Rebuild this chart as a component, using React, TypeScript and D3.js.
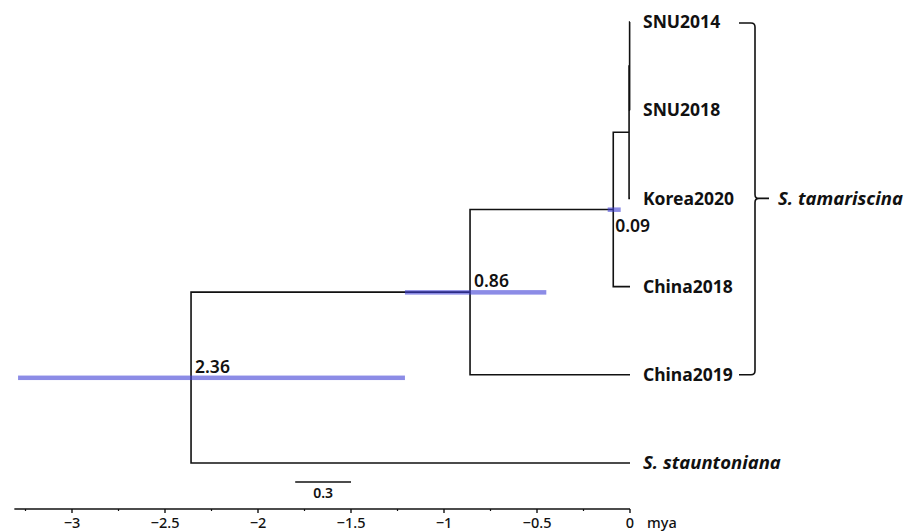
import * as d3 from "d3";
import { useEffect, useRef } from "react";

// tips from top to bottom
const tipNames = ["SNU2014", "SNU2018", "Korea2020", "China2018", "China2019", "S. stauntoniana"];
const italicTips = ["S. stauntoniana"];

// internal nodes: [child a, child b, age (mya)]
const nodeNames = ["n1", "n2", "n3", "n4", "root"];
const nodeChildren = [
  ["SNU2014", "SNU2018"],
  ["n1", "Korea2020"],
  ["n2", "China2018"],
  ["n3", "China2019"],
  ["n4", "S. stauntoniana"],
];
const nodeAges = [0.002, 0.005, 0.09, 0.86, 2.36];
const nodeLabels = ["", "", "0.09", "0.86", "2.36"];
// 95% HPD ranges
const hpdLow = [null, null, 0.12, 1.21, 3.29];
const hpdHigh = [null, null, 0.05, 0.45, 1.21];

const axisTicks = [-3, -2.5, -2, -1.5, -1, -0.5, 0];
const minorTicks = [-3.25, -2.75, -2.25, -1.75, -1.25, -0.75, -0.25];

const cladeName = "S. tamariscina";
const scaleBarLength = 0.3;

const W = 906;
const H = 531;
const font = "'Noto Sans', 'Open Sans', sans-serif";

const App = () => {
  const svgRef = useRef(null);

  useEffect(() => {
    const svg = d3.select(svgRef.current);
    svg.selectAll("*").remove();

    const x = d3.scaleLinear().domain([-3, 0]).range([72, 630]);
    const y = d3.scaleLinear().domain([0, tipNames.length - 1]).range([22, 463]);

    // compute positions
    const pos = {};
    tipNames.forEach((t, i) => {
      pos[t] = { x: x(0), y: y(i) };
    });
    nodeNames.forEach((n, i) => {
      const [a, b] = nodeChildren[i];
      pos[n] = { x: x(-nodeAges[i]), y: (pos[a].y + pos[b].y) / 2 };
    });

    const g = svg.append("g");

    // branches
    nodeNames.forEach((n, i) => {
      const p = pos[n];
      const [a, b] = nodeChildren[i];
      const pa = pos[a];
      const pb = pos[b];
      g.append("path")
        .attr("d", `M${pa.x},${pa.y}H${p.x}V${pb.y}H${pb.x}`)
        .attr("fill", "none")
        .attr("stroke", "#111")
        .attr("stroke-width", 1.6);
    });

    // HPD bars
    nodeNames.forEach((n, i) => {
      if (hpdLow[i] == null) return;
      const p = pos[n];
      const x0 = x(-hpdLow[i]);
      const x1 = x(-hpdHigh[i]);
      g.append("rect")
        .attr("x", x0)
        .attr("y", p.y - 2)
        .attr("width", x1 - x0)
        .attr("height", 4.5)
        .attr("fill", "rgb(63,63,213)")
        .attr("fill-opacity", 0.6);
    });

    // node labels
    nodeNames.forEach((n, i) => {
      if (!nodeLabels[i]) return;
      const p = pos[n];
      const below = n === "n3";
      g.append("text")
        .attr("x", p.x + (below ? 2 : 4))
        .attr("y", below ? p.y + 23 : p.y - 5)
        .attr("font-family", font)
        .attr("font-size", 17.5)
        .attr("font-weight", 600)
        .attr("fill", "#111")
        .text(nodeLabels[i]);
    });

    // tip labels
    tipNames.forEach((t) => {
      const p = pos[t];
      const it = italicTips.includes(t);
      g.append("text")
        .attr("x", p.x + 13)
        .attr("y", p.y)
        .attr("dy", "0.35em")
        .attr("font-family", font)
        .attr("font-size", it ? 18.5 : 17.5)
        .attr("font-weight", 700)
        .attr("font-style", it ? "italic" : "normal")
        .attr("fill", "#111")
        .text(t);
    });

    // clade bracket
    const top = pos[tipNames[0]].y + 1;
    const bot = pos["China2019"].y;
    const mid = pos["Korea2020"].y;
    const bx = 755;
    const r = 4;
    g.append("path")
      .attr(
        "d",
        `M${bx - 16},${top}H${bx - r}Q${bx},${top} ${bx},${top + r}` +
          `V${mid - r}Q${bx},${mid} ${bx + r},${mid}H${bx + 14}` +
          `M${bx + r},${mid}Q${bx},${mid} ${bx},${mid + r}` +
          `V${bot - r}Q${bx},${bot} ${bx - r},${bot}H${bx - 16}`
      )
      .attr("fill", "none")
      .attr("stroke", "#111")
      .attr("stroke-width", 1.6);
    g.append("text")
      .attr("x", bx + 23)
      .attr("y", mid)
      .attr("dy", "0.35em")
      .attr("font-family", font)
      .attr("font-size", 18.5)
      .attr("font-weight", 700)
      .attr("font-style", "italic")
      .attr("fill", "#111")
      .text(cladeName);

    // scale bar
    const sb0 = x(-1.8);
    const sb1 = x(-1.8 + scaleBarLength);
    g.append("line")
      .attr("x1", sb0)
      .attr("x2", sb1)
      .attr("y1", 482)
      .attr("y2", 482)
      .attr("stroke", "#111")
      .attr("stroke-width", 1.6);
    g.append("text")
      .attr("x", (sb0 + sb1) / 2)
      .attr("y", 498)
      .attr("text-anchor", "middle")
      .attr("font-family", font)
      .attr("font-size", 14)
      .attr("font-weight", 600)
      .attr("fill", "#111")
      .text(String(scaleBarLength));

    // time axis
    const ay = 509;
    const ax = svg.append("g");
    ax.append("line")
      .attr("x1", x(-3.31))
      .attr("x2", x(0))
      .attr("y1", ay)
      .attr("y2", ay)
      .attr("stroke", "#111")
      .attr("stroke-width", 1.6);
    ax.selectAll(".major")
      .data(axisTicks)
      .enter()
      .append("line")
      .attr("x1", (d) => x(d))
      .attr("x2", (d) => x(d))
      .attr("y1", ay)
      .attr("y2", ay + 4)
      .attr("stroke", "#111")
      .attr("stroke-width", 1.4);
    ax.selectAll(".minor")
      .data(minorTicks)
      .enter()
      .append("line")
      .attr("x1", (d) => x(d))
      .attr("x2", (d) => x(d))
      .attr("y1", ay)
      .attr("y2", ay + 2)
      .attr("stroke", "#111")
      .attr("stroke-width", 1.2);
    const fmt = d3.format("");
    ax.selectAll(".lab")
      .data(axisTicks)
      .enter()
      .append("text")
      .attr("x", (d) => x(d))
      .attr("y", 528)
      .attr("text-anchor", "middle")
      .attr("font-family", font)
      .attr("font-size", 14.5)
      .attr("font-weight", 500)
      .attr("fill", "#111")
      .text((d) => fmt(d));
    ax.append("text")
      .attr("x", x(0) + 17)
      .attr("y", 528)
      .attr("font-family", font)
      .attr("font-size", 14.5)
      .attr("font-weight", 500)
      .attr("fill", "#111")
      .text("mya");
  }, []);

  return (
    <div>
      <svg
        ref={svgRef}
        width={W}
        height={H}
        style={{ position: "absolute", left: 0, top: 0, background: "#fff" }}
      ></svg>
    </div>
  );
};

export default App;
